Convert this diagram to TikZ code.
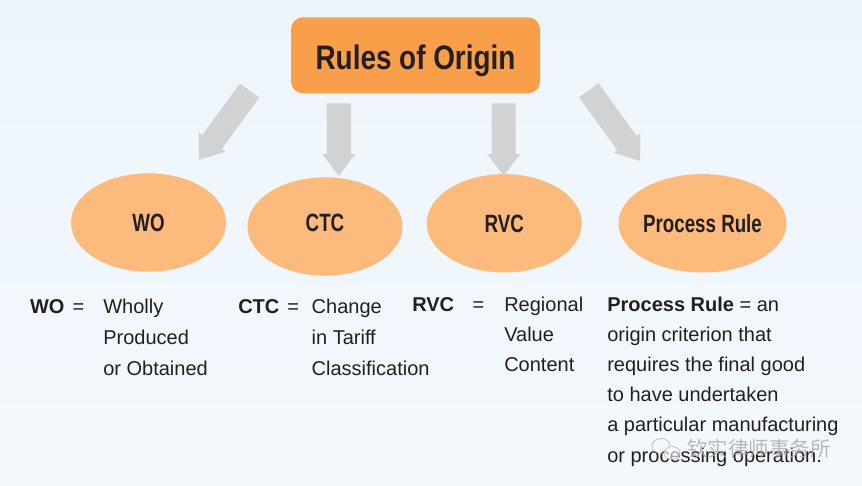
\documentclass[tikz,border=0pt]{standalone}
\usepackage{fontspec}
\setmainfont{Liberation Sans}
\newfontfamily\titlefont[FakeStretch=0.82]{Liberation Sans}
\newfontfamily\ellfont[FakeStretch=0.75]{Liberation Sans}
\newfontfamily\cjk{Noto Sans CJK SC}
\usetikzlibrary{calc,shapes.geometric}
\definecolor{titleorange}{HTML}{F99F4A}
\definecolor{ellorange}{HTML}{FCBA7D}
\definecolor{arrowgray}{HTML}{D1D2D4}
\definecolor{ink}{HTML}{231F20}
\definecolor{bgtop}{HTML}{EDF5FC}
\definecolor{bgbot}{HTML}{F3F8FC}
\newcommand\blockarrow[2]{%
  \fill[arrowgray] let \p1=(#1), \p2=(#2),
    \n1={atan2(\y2-\y1,\x2-\x1)}, \n2={veclen(\x2-\x1,\y2-\y1)} in
    [shift={(\p1)}, rotate=\n1]
    (0pt,12pt) -- ({\n2-22pt},12pt) -- ({\n2-22pt},16.5pt) -- ({\n2},0pt)
    -- ({\n2-22pt},-16.5pt) -- ({\n2-22pt},-12pt) -- (0pt,-12pt) -- cycle;}
\tikzset{
  titlebox/.style={rectangle, rounded corners=12pt, fill=titleorange,
    minimum width=249pt, minimum height=76pt, inner sep=0pt, text=ink,
    font=\titlefont\bfseries\fontsize{34}{40}\selectfont,
    text height=27.7pt, text depth=0pt},
  ellbox/.style={ellipse, fill=ellorange, minimum width=155pt,
    minimum height=98.4pt, inner sep=0pt, text=ink,
    font=\ellfont\bfseries\fontsize{25}{30}\selectfont,
    text height=18pt, text depth=0pt},
  deftext/.style={anchor=base west, inner sep=0pt, outer sep=0pt, text=ink,
    font=\fontsize{20}{24}\selectfont},
  keytext/.style={deftext, font=\bfseries\fontsize{20}{24}\selectfont},
}
\begin{document}
\begin{tikzpicture}[x=1pt,y=-1pt]
\shade[top color=bgtop,bottom color=bgbot] (0,0) rectangle (862,485);
\useasboundingbox (0,0) rectangle (862,485);

% title
\node[titlebox] (title) at (415.5,55.3) {Rules of Origin};

% ellipses
\node[ellbox] (wo)   at (148.5,222.5) {WO};
\node[ellbox] (ctc)  at (325,226.5)   {\raisebox{3.7pt}{CTC}};
\node[ellbox] (rvc)  at (504.2,223.3) {RVC};
\node[ellbox] (proc) at (702.5,223.3) {Process Rule};

% block arrows
\coordinate (a1s) at (249.5,90.5);  \coordinate (a1e) at (199,160);
\coordinate (a2s) at (338.8,103.3); \coordinate (a2e) at (338.8,176);
\coordinate (a3s) at (503.7,103.3); \coordinate (a3e) at (503.7,176);
\coordinate (a4s) at (588.8,90.3);  \coordinate (a4e) at (640,161);
\blockarrow{a1s}{a1e}
\blockarrow{a2s}{a2e}
\blockarrow{a3s}{a3e}
\blockarrow{a4s}{a4e}

% definitions
\node[keytext] (wok) at (30,313) {WO};
\node[deftext] (woeq) at (72.7,313) {=};
\node[deftext] (wo1) at (103.3,313) {Wholly};
\node[deftext] (wo2) at (103.3,344) {Produced};
\node[deftext] (wo3) at (103.3,375) {or Obtained};

\node[keytext] (ctck) at (238.3,313) {CTC};
\node[deftext] (ctceq) at (287.3,313) {=};
\node[deftext] (ctc1) at (311.7,313) {Change};
\node[deftext] (ctc2) at (311.7,344) {in Tariff};
\node[deftext] (ctc3) at (311.7,375) {Classification};

\node[keytext] (rvck) at (412.3,311) {RVC};
\node[deftext] (rvceq) at (472.7,311) {=};
\node[deftext] (rvc1) at (504.3,311) {Regional};
\node[deftext] (rvc2) at (504.3,341) {Value};
\node[deftext] (rvc3) at (504.3,371) {Content};

\node[deftext] (pr1) at (607.3,311) {\textbf{Process Rule} = an};
\node[deftext] (pr2) at (607.3,341.2) {origin criterion that};
\node[deftext] (pr3) at (607.3,371.4) {requires the final good};
\node[deftext] (pr4) at (607.3,401.6) {to have undertaken};
\node[deftext] (pr5) at (607.3,431.8) {a particular manufacturing};
\node[deftext] (pr6) at (607.3,462) {or processing operation.};

% watermark
\draw[black!30, line width=0.8pt, opacity=0.8] (661,446) ellipse [x radius=9pt, y radius=7.5pt];
\draw[black!30, line width=0.8pt, fill=white, fill opacity=0.6, draw opacity=0.8] (672,453) ellipse [x radius=8pt, y radius=6.5pt];
\node[anchor=west, inner sep=0pt, text=black!32, opacity=0.85,
  font=\cjk\fontsize{20.5}{24}\selectfont] (wm) at (687,449) {钦实律师事务所};
\end{tikzpicture}
\end{document}
